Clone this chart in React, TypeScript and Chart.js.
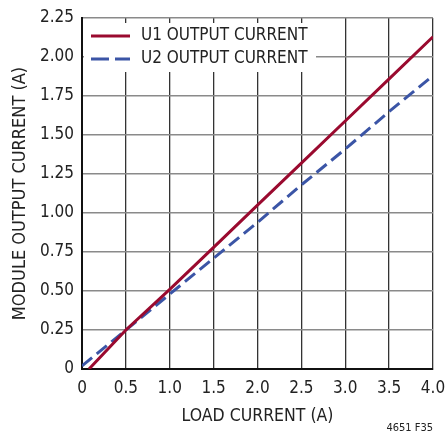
import React, { useEffect, useRef } from "react";
import { Chart, registerables } from "chart.js";

Chart.register(...registerables);

const loadCurrent = [0, 0.5, 1.0, 1.5, 2.0, 2.5, 3.0, 3.5, 4.0];
const u1Load = [0.08, 0.5, 1.0, 1.5, 2.0, 2.5, 3.0, 3.5, 4.0];
const u1Output = [0, 0.25, 0.51, 0.78, 1.05, 1.32, 1.59, 1.86, 2.13];
const u2Output = [0.02, 0.25, 0.48, 0.71, 0.94, 1.18, 1.41, 1.65, 1.88];
const seriesNames = ["U1 OUTPUT CURRENT", "U2 OUTPUT CURRENT"];
const xTitle = "LOAD CURRENT (A)";
const yTitle = "MODULE OUTPUT CURRENT (A)";
const footnote = "4651 F35";

const FONT = "'Liberation Sans Narrow', 'DejaVu Sans Condensed', 'Liberation Sans', sans-serif";
const RED = "#9a0a2f";
const BLUE = "#3b55a6";

export default function App() {
  const ref = useRef<HTMLCanvasElement | null>(null);
  useEffect(() => {
    document.body.style.margin = "0";
    const canvas = ref.current!;
    const legendPlugin = {
      id: "customLegend",
      beforeDatasetsDraw(chart: any) {
        const ctx = chart.ctx;
        const a = chart.chartArea;
        ctx.save();
        ctx.fillStyle = "#ffffff";
        ctx.fillRect(a.left + 2, a.top + 5, 232, 49);
        ctx.restore();
      },
      afterDraw(chart: any) {
        const ctx = chart.ctx;
        const a = chart.chartArea;
        ctx.save();
        ctx.lineWidth = 3;
        ctx.strokeStyle = RED;
        ctx.beginPath();
        ctx.moveTo(a.left + 9, a.top + 18);
        ctx.lineTo(a.left + 48, a.top + 18);
        ctx.stroke();
        ctx.strokeStyle = BLUE;
        ctx.setLineDash([18, 6]);
        ctx.beginPath();
        ctx.moveTo(a.left + 9, a.top + 41);
        ctx.lineTo(a.left + 48, a.top + 41);
        ctx.stroke();
        ctx.setLineDash([]);
        ctx.fillStyle = "#222";
        ctx.font = "17px " + FONT;
        ctx.textBaseline = "middle";
        ctx.textAlign = "left";
        ctx.fillText(seriesNames[0], a.left + 59, a.top + 18);
        ctx.fillText(seriesNames[1], a.left + 59, a.top + 41);
        ctx.font = "11px " + FONT;
        ctx.textAlign = "right";
        ctx.fillText(footnote, a.right, 428);
        ctx.restore();
      },
    };
    const chart = new Chart(canvas, {
      type: "line",
      data: {
        datasets: [
          {
            label: seriesNames[0],
            data: u1Load.map((x, i) => ({ x, y: u1Output[i] })),
            borderColor: RED,
            borderWidth: 3,
            pointRadius: 0,
            tension: 0,
          },
          {
            label: seriesNames[1],
            data: loadCurrent.map((x, i) => ({ x, y: u2Output[i] })),
            borderColor: BLUE,
            borderWidth: 3,
            borderDash: [13, 6],
            pointRadius: 0,
            tension: 0,
          },
        ],
      },
      options: {
        animation: false,
        responsive: false,
        maintainAspectRatio: false,
        layout: { padding: { top: 18, right: 14, left: 0, bottom: 12 } },
        plugins: { legend: { display: false }, tooltip: { enabled: false } },
        scales: {
          x: {
            type: "linear",
            min: 0,
            max: 4,
            afterFit(s: any) {
              s.height = 58;
              s.paddingLeft = 0;
              s.paddingRight = 0;
            },
            ticks: {
              stepSize: 0.5,
              color: "#222",
              font: { family: FONT, size: 17 },
              padding: 9,
              callback: (v: any) => (v === 0 ? "0" : Number(v).toFixed(1)),
            },
            grid: { color: "#333", lineWidth: 1.3, drawTicks: false },
            border: { color: "#111", width: 2 },
            title: {
              display: true,
              text: xTitle,
              color: "#222",
              font: { family: FONT, size: 17.5 },
              padding: { top: 4, bottom: 0 },
            },
          },
          y: {
            type: "linear",
            min: 0,
            max: 2.25,
            afterFit(s: any) {
              s.width = 82;
              s.paddingTop = 0;
              s.paddingBottom = 0;
            },
            ticks: {
              stepSize: 0.25,
              color: "#222",
              font: { family: FONT, size: 17 },
              padding: 8,
              callback: (v: any) => (v === 0 ? "0" : Number(v).toFixed(2)),
            },
            grid: { color: "#8a8a8a", lineWidth: 1.5, drawTicks: false },
            border: { color: "#111", width: 2 },
            title: {
              display: true,
              text: yTitle,
              color: "#222",
              font: { family: FONT, size: 18 },
              padding: { top: 10, bottom: 4 },
            },
          },
        },
      },
      plugins: [legendPlugin],
    } as any);
    return () => chart.destroy();
  }, []);
  return (
    <div style={{ position: "absolute", left: 0, top: 0, width: 447, height: 439 }}>
      <canvas ref={ref} width={447} height={439} style={{ width: 447, height: 439 }} />
    </div>
  );
}
